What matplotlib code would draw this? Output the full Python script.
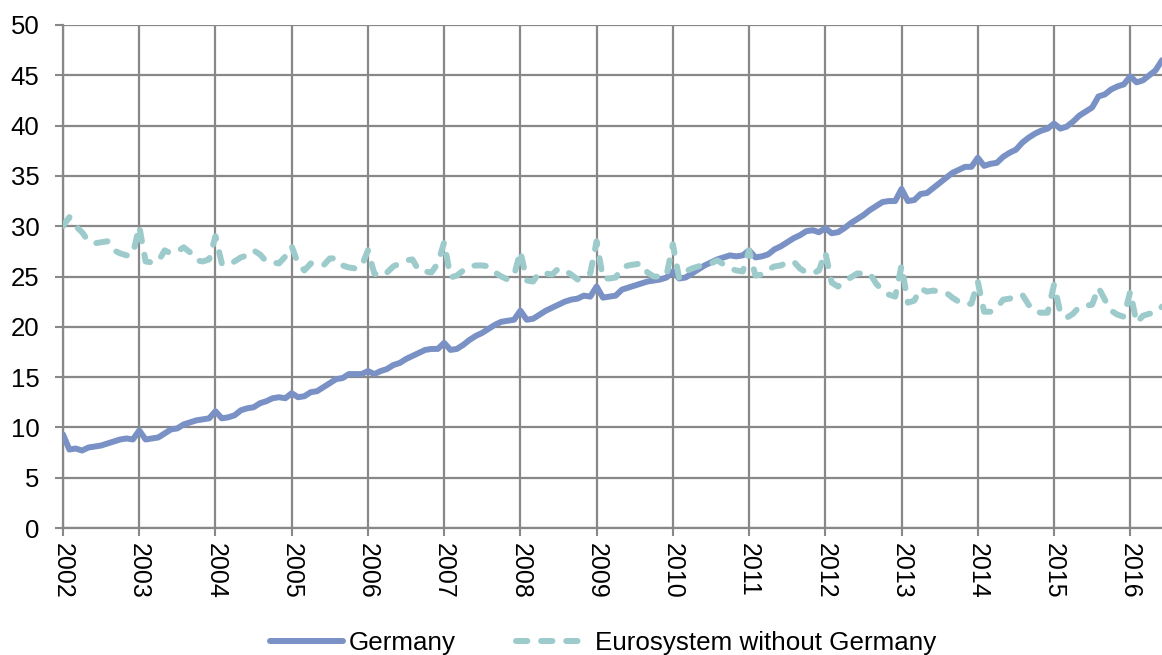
import matplotlib
matplotlib.use("Agg")
import matplotlib.pyplot as plt
import numpy as np

plt.rcParams['font.family'] = ['Liberation Sans', 'DejaVu Sans']

years = list(range(2002, 2017))
series_names = ["Germany", "Eurosystem without Germany"]

germany = [
    9.3, 7.8, 7.9, 7.7, 8.0, 8.1, 8.2, 8.4, 8.6, 8.8, 8.9, 8.8,
    9.7, 8.8, 8.9, 9.0, 9.4, 9.8, 9.9, 10.3, 10.5, 10.7, 10.8, 10.9,
    11.6, 10.9, 11.0, 11.2, 11.7, 11.9, 12.0, 12.4, 12.6, 12.9, 13.0, 12.9,
    13.4, 13.0, 13.1, 13.5, 13.6, 14.0, 14.4, 14.8, 14.9, 15.3, 15.3, 15.3,
    15.6, 15.3, 15.6, 15.8, 16.2, 16.4, 16.8, 17.1, 17.4, 17.7, 17.8, 17.8,
    18.4, 17.7, 17.8, 18.2, 18.7, 19.1, 19.4, 19.8, 20.2, 20.5, 20.6, 20.7,
    21.6, 20.7, 20.8, 21.2, 21.6, 21.9, 22.2, 22.5, 22.7, 22.8, 23.1, 23.0,
    24.0, 22.9, 23.0, 23.1, 23.7, 23.9, 24.1, 24.3, 24.5, 24.6, 24.7, 24.9,
    25.5, 24.8, 24.9, 25.3, 25.7, 26.1, 26.4, 26.7, 26.9, 27.1, 27.0, 27.1,
    27.6, 26.9, 27.0, 27.2, 27.7, 28.0, 28.4, 28.8, 29.1, 29.5, 29.6, 29.4,
    29.8, 29.3, 29.4, 29.8, 30.3, 30.7, 31.1, 31.6, 32.0, 32.4, 32.5, 32.5,
    33.7, 32.5, 32.6, 33.2, 33.3, 33.8, 34.3, 34.8, 35.3, 35.6, 35.9, 35.9,
    36.8, 36.0, 36.2, 36.3, 36.9, 37.3, 37.6, 38.3, 38.8, 39.2, 39.5, 39.7,
    40.2, 39.7, 39.9, 40.4, 41.0, 41.4, 41.8, 42.9, 43.1, 43.6, 43.9, 44.1,
    44.9, 44.3, 44.5, 45.0, 45.5, 46.5,
]

eurosystem = [
    30.0, 30.9, 30.0, 29.4, 28.5, 28.3, 28.4, 28.5, 27.6, 27.3, 27.1, 27.2,
    30.0, 26.5, 26.4, 26.5, 27.6, 27.3, 27.5, 27.9, 27.4, 26.6, 26.5, 26.7,
    29.0, 26.3, 26.1, 26.5, 26.9, 27.1, 27.6, 27.2, 26.5, 26.4, 26.3, 27.0,
    28.0, 26.3, 25.6, 26.3, 26.2, 26.1, 26.8, 26.8, 26.1, 25.9, 25.8, 26.0,
    27.6, 25.3, 25.0, 25.4, 26.0, 26.3, 26.6, 26.7, 25.6, 25.5, 25.4, 26.3,
    28.4, 24.9, 25.1, 25.6, 26.0, 26.1, 26.1, 26.0, 25.4, 25.0, 24.7, 25.1,
    27.5, 24.6, 24.5, 25.4, 25.3, 25.2, 25.8, 25.6, 25.2, 24.7, 25.2, 25.3,
    28.5, 24.8, 24.8, 24.9, 25.9, 26.1, 26.2, 26.3, 25.4, 25.0, 25.0, 25.1,
    28.2, 24.8, 25.5, 25.8, 26.0, 26.2, 26.3, 26.6, 26.2, 25.8, 25.6, 25.5,
    27.6, 25.1, 25.2, 25.7, 26.0, 26.1, 26.4, 26.5, 25.8, 25.4, 25.3, 25.6,
    27.4, 24.4, 24.0, 24.5, 24.9, 25.3, 25.3, 25.3, 24.3, 23.6, 23.2, 23.0,
    26.1, 22.4, 22.6, 23.8, 23.5, 23.6, 23.5, 23.4, 22.9, 22.5, 22.2, 22.3,
    24.5, 21.5, 21.5, 21.9, 22.7, 22.8, 23.0, 23.2, 22.2, 21.5, 21.4, 21.4,
    24.2, 21.4, 20.9, 21.3, 22.0, 22.1, 22.2, 23.9, 22.7, 21.6, 21.2, 21.0,
    23.5, 20.4, 21.1, 21.3, 21.4, 22.0,
]

x = 2002 + np.arange(len(germany)) / 12.0

fig = plt.figure(figsize=(11.62, 6.55), dpi=100)
ax = fig.add_axes([63 / 1162, 1 - 528 / 655, 1 - 63 / 1162, (528 - 25) / 655])

grid_c = '#888888'
ax.plot(x, germany, color='#7a91c6', lw=4.3, solid_capstyle='round',
        solid_joinstyle='round', label=series_names[0], zorder=3)
ax.plot(x, eurosystem, color='#9dcbcb', lw=4.3, linestyle=(0, (1.9, 2.3)),
        dash_capstyle='round', dash_joinstyle='round', label=series_names[1], zorder=3)

ax.set_xlim(2002, x[-1])
ax.set_ylim(0, 50)
ax.set_yticks(np.arange(0, 51, 5))
ax.set_xticks(years)
ax.set_xticklabels([str(y) for y in years], rotation=270, fontsize=18)
ax.tick_params(axis='y', labelsize=18.5, length=6, width=1.5, color=grid_c, pad=11)
ax.tick_params(axis='x', length=6, width=1.5, color=grid_c, pad=5)

ax.grid(True, color=grid_c, lw=1.6, zorder=0)
for s in ['top', 'right']:
    ax.spines[s].set_visible(False)
for s in ['left', 'bottom']:
    ax.spines[s].set_color(grid_c)
    ax.spines[s].set_linewidth(1.6)
ax.set_axisbelow(True)

fig.legend(loc='center left', bbox_to_anchor=(270 / 1162, 1 - 643 / 655), ncol=2,
           frameon=False, fontsize=18.7, handlelength=2.8, columnspacing=2.3,
           handletextpad=0.25, borderpad=0, borderaxespad=0)

fig.savefig('out.png', dpi=100)
